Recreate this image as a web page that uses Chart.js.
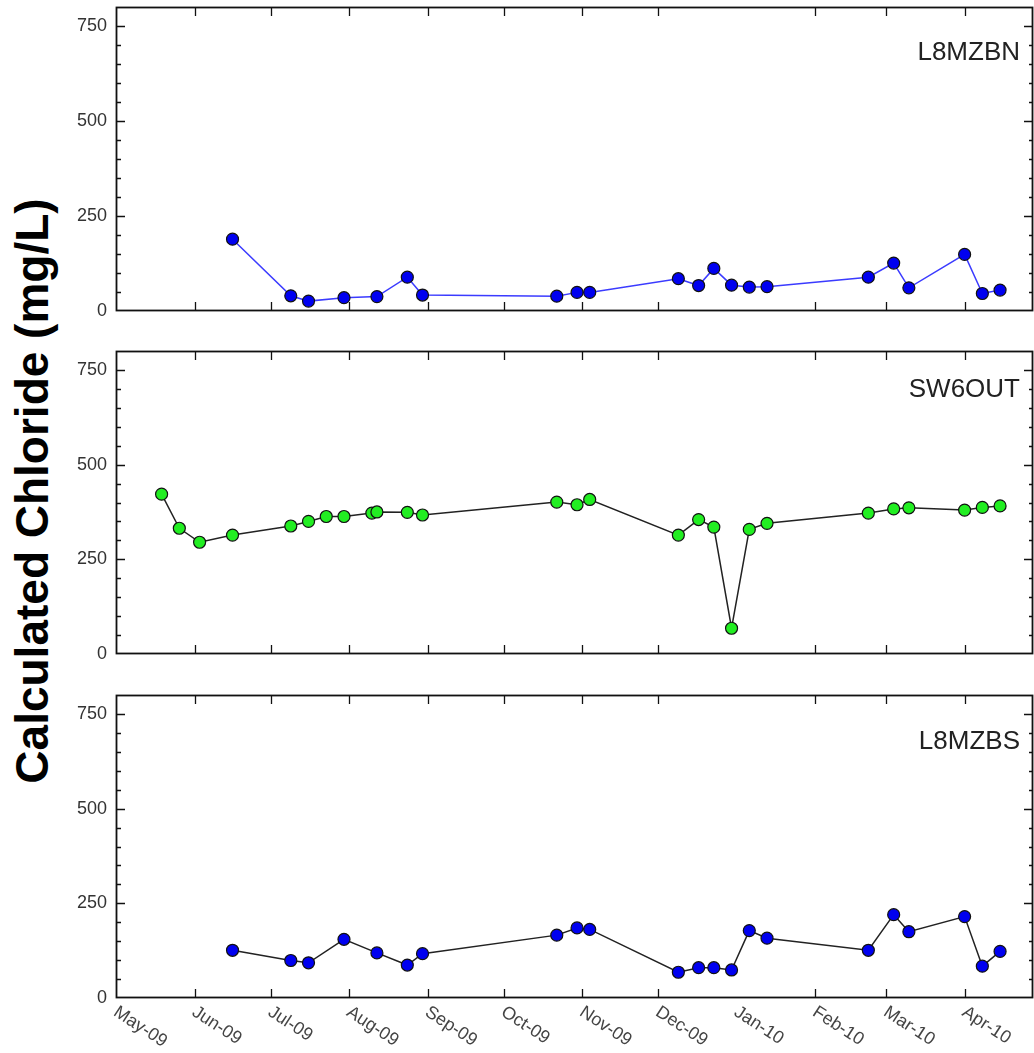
<!DOCTYPE html>
<html>
<head>
<meta charset="utf-8">
<script src="https://cdn.jsdelivr.net/npm/chart.js@4.4.1/dist/chart.umd.min.js"></script>
<style>
  html, body { margin: 0; padding: 0; background: #fff; }
  body { width: 1034px; height: 1053px; position: relative; overflow: hidden; }
  canvas { position: absolute; left: 0; }
  #ytitle {
    position: absolute; width: 700px; height: 50px; line-height: 50px;
    left: -320.5px; top: 466px; text-align: center;
    font: bold 46px "Liberation Sans", Arial, sans-serif; color: #000;
    transform: rotate(-90deg); white-space: nowrap;
  }
</style>
</head>
<body>
<div id="ytitle">Calculated Chloride (mg/L)</div>
<canvas id="c1" width="1034" height="323" style="top:0px"></canvas>
<canvas id="c2" width="1034" height="322" style="top:344px"></canvas>
<canvas id="c3" width="1034" height="365" style="top:688px"></canvas>
<script>
// ---------------- data ----------------
const axisStart = '2009-05-01';
const axisEnd = '2010-04-28';
const monthTicks = ['2009-05-01','2009-06-01','2009-07-01','2009-08-01','2009-09-01','2009-10-01',
                    '2009-11-01','2009-12-01','2010-01-01','2010-02-01','2010-03-01','2010-04-01'];
const monthLabels = ['May-09','Jun-09','Jul-09','Aug-09','Sep-09','Oct-09',
                     'Nov-09','Dec-09','Jan-10','Feb-10','Mar-10','Apr-10'];
const monthTickMarks = ['2009-06-01','2009-07-01','2009-08-01','2009-09-01','2009-10-01',
                        '2009-11-01','2009-12-01','2010-02-01','2010-03-01','2010-04-01'];
const yMajorTicks = [0, 250, 500, 750];
const yMinorTicks = [50,100,150,200,300,350,400,450,550,600,650,700];

const sampleDates = ['2009-06-16','2009-07-09','2009-07-16','2009-07-30','2009-08-12','2009-08-24','2009-08-30',
                     '2009-10-22','2009-10-30','2009-11-04','2009-12-09','2009-12-17','2009-12-23','2009-12-30',
                     '2010-01-06','2010-01-13','2010-02-22','2010-03-04','2010-03-10','2010-04-01','2010-04-08','2010-04-15'];
const L8MZBN = [189, 40, 26, 35, 38, 89, 42, 39, 49, 49, 85, 67, 112, 68, 63, 64, 89, 126, 61, 149, 46, 55];
const L8MZBS = [126, 99, 93, 155, 119, 87, 117, 166, 185, 181, 68, 80, 80, 74, 178, 158, 126, 220, 175, 215, 84, 123];

const sw6Dates = ['2009-05-19','2009-05-26','2009-06-03','2009-06-16','2009-07-09','2009-07-16','2009-07-23','2009-07-30',
                  '2009-08-10','2009-08-12','2009-08-24','2009-08-30','2009-10-22','2009-10-30','2009-11-04',
                  '2009-12-09','2009-12-17','2009-12-23','2009-12-30','2010-01-06','2010-01-13','2010-02-22',
                  '2010-03-04','2010-03-10','2010-04-01','2010-04-08','2010-04-15'];
const SW6OUT = [422, 332, 295, 314, 338, 350, 363, 363, 372, 375, 374, 367, 401, 394, 408,
                314, 355, 335, 68, 329, 345, 372, 383, 386, 380, 387, 391];

// ---------------- helpers ----------------
function dayNum(s) {
  const [Y, M, D] = s.split('-').map(Number);
  const [y0, m0, d0] = axisStart.split('-').map(Number);
  return (Date.UTC(Y, M - 1, D) - Date.UTC(y0, m0 - 1, d0)) / 86400000;
}
function toPoints(dates, vals) { return dates.map((d, i) => ({ x: dayNum(d), y: vals[i] })); }

const FONT = '"Liberation Sans", Arial, sans-serif';

const framePlugin = {
  id: 'frame',
  afterDraw(chart, args, opts) {
    const { ctx, chartArea: a, scales: { x, y } } = chart;
    ctx.save();
    ctx.strokeStyle = '#111';
    ctx.lineWidth = 1.3;
    ctx.beginPath();
    yMajorTicks.forEach(v => {
      if (v <= 0) return;
      const py = Math.round(y.getPixelForValue(v)) + 0.5;
      ctx.moveTo(a.left, py); ctx.lineTo(a.left + 9, py);
      ctx.moveTo(a.right, py); ctx.lineTo(a.right - 9, py);
    });
    yMinorTicks.forEach(v => {
      const py = Math.round(y.getPixelForValue(v)) + 0.5;
      ctx.moveTo(a.left, py); ctx.lineTo(a.left + 5, py);
      ctx.moveTo(a.right, py); ctx.lineTo(a.right - 4, py);
    });
    monthTickMarks.forEach(d => {
      const px = Math.round(x.getPixelForValue(dayNum(d))) + 0.5;
      ctx.moveTo(px, a.top); ctx.lineTo(px, a.top + 9);
      ctx.moveTo(px, a.bottom); ctx.lineTo(px, a.bottom - 9);
    });
    ctx.stroke();
    ctx.lineWidth = 1.8;
    ctx.strokeRect(a.left + 0.5, a.top + 0.5, a.right - a.left - 1, a.bottom - a.top - 1);

    ctx.fillStyle = '#222';
    ctx.font = '26px ' + FONT;
    ctx.textAlign = 'right';
    ctx.textBaseline = 'alphabetic';
    ctx.fillText(opts.label, a.right - 13, a.top + opts.labelOffset);

    if (opts.xLabels) {
      ctx.fillStyle = '#444';
      ctx.font = '18px ' + FONT;
      ctx.textAlign = 'left';
      ctx.textBaseline = 'top';
      monthTicks.forEach((d, i) => {
        const px = x.getPixelForValue(dayNum(d));
        ctx.save();
        ctx.translate(px + 4, a.bottom + 5);
        ctx.rotate(33 * Math.PI / 180);
        ctx.fillText(monthLabels[i], 0, 0);
        ctx.restore();
      });
    }
    ctx.restore();
  }
};

function makeChart(id, dates, vals, style, frameOpts, padBottom) {
  return new Chart(document.getElementById(id), {
    type: 'line',
    data: {
      datasets: [{
        data: toPoints(dates, vals),
        borderColor: style.line,
        borderWidth: 1.5,
        pointRadius: 6,
        pointBackgroundColor: style.fill,
        pointBorderColor: '#111',
        pointBorderWidth: 1.2,
        tension: 0,
        fill: false
      }]
    },
    options: {
      responsive: false,
      animation: false,
      events: [],
      layout: { autoPadding: false, padding: { left: 0, right: 1, top: 7, bottom: padBottom } },
      plugins: { legend: { display: false }, tooltip: { enabled: false }, frame: frameOpts },
      scales: {
        x: { type: 'linear', display: false, min: 0, max: dayNum(axisEnd) },
        y: {
          type: 'linear', min: 0, max: 800,
          afterBuildTicks: s => { s.ticks = yMajorTicks.map(v => ({ value: v })); },
          afterFit: s => { s.width = 116; s.paddingTop = 0; s.paddingBottom = 0; },
          grid: { display: false, drawTicks: false },
          border: { display: false },
          ticks: { font: { size: 18, family: FONT }, color: '#333', padding: 9 }
        }
      }
    },
    plugins: [framePlugin]
  });
}

makeChart('c1', sampleDates, L8MZBN, { line: '#3b3bff', fill: '#0000f0' },
          { label: 'L8MZBN', labelOffset: 53, xLabels: false }, 12);
makeChart('c2', sw6Dates, SW6OUT, { line: '#222', fill: '#22ee22' },
          { label: 'SW6OUT', labelOffset: 46, xLabels: false }, 12);
makeChart('c3', sampleDates, L8MZBS, { line: '#222', fill: '#0000f0' },
          { label: 'L8MZBS', labelOffset: 54, xLabels: true }, 55);
</script>
</body>
</html>
